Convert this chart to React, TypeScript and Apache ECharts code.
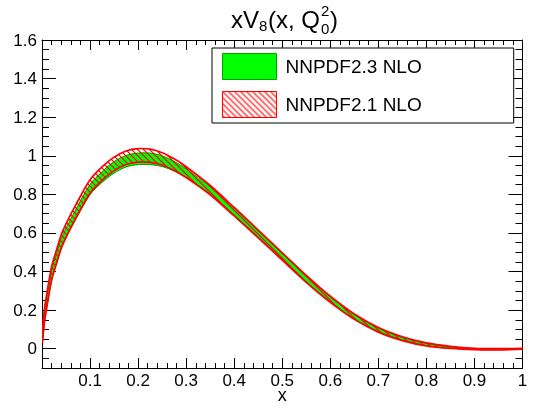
import React, { useEffect, useRef } from 'react';
import * as echarts from 'echarts';

const FONT = "'Liberation Sans', Arial, Helvetica, sans-serif";

// x grid of the curves
const xValues = [0.001, 0.005, 0.01, 0.02, 0.03, 0.04, 0.05, 0.07, 0.1, 0.125, 0.15, 0.175, 0.2, 0.225, 0.25, 0.275, 0.3, 0.35, 0.4, 0.45, 0.5, 0.55, 0.6, 0.65, 0.7, 0.75, 0.8, 0.85, 0.9, 0.95, 1.0];

// NNPDF2.3 NLO band (green)
const nnpdf23Lower = [0.040, 0.135, 0.215, 0.355, 0.440, 0.520, 0.575, 0.670, 0.798, 0.862, 0.910, 0.942, 0.954, 0.954, 0.944, 0.921, 0.888, 0.802, 0.694, 0.580, 0.464, 0.349, 0.244, 0.156, 0.090, 0.046, 0.017, 0.003, -0.004, -0.005, -0.001];
const nnpdf23Upper = [0.080, 0.185, 0.265, 0.405, 0.490, 0.570, 0.625, 0.720, 0.852, 0.918, 0.970, 1.002, 1.014, 1.014, 1.000, 0.971, 0.932, 0.838, 0.726, 0.610, 0.492, 0.375, 0.268, 0.176, 0.106, 0.058, 0.027, 0.010, 0.001, -0.002, 0.001];

// NNPDF2.1 NLO band (red hatched)
const nnpdf21Lower = [0.030, 0.135, 0.215, 0.355, 0.440, 0.520, 0.577, 0.674, 0.806, 0.873, 0.923, 0.955, 0.967, 0.966, 0.952, 0.924, 0.887, 0.798, 0.688, 0.575, 0.459, 0.344, 0.240, 0.152, 0.086, 0.042, 0.014, 0.001, -0.005, -0.006, -0.002];
const nnpdf21Upper = [0.090, 0.205, 0.285, 0.425, 0.510, 0.590, 0.647, 0.744, 0.876, 0.943, 0.993, 1.025, 1.037, 1.034, 1.016, 0.984, 0.943, 0.846, 0.732, 0.615, 0.497, 0.380, 0.272, 0.180, 0.110, 0.062, 0.030, 0.012, 0.002, 0.000, 0.002];

const legendNames = ['NNPDF2.3 NLO', 'NNPDF2.1 NLO'];
const yMajorTicks = [0, 0.2, 0.4, 0.6, 0.8, 1.0, 1.2, 1.4, 1.6];

export default function App() {
  const ref = useRef<HTMLDivElement>(null);

  useEffect(() => {
    const chart = echarts.init(ref.current!, null, { renderer: 'svg' });

    const c = document.createElement('canvas');
    c.width = 6;
    c.height = 6;
    const ctx = c.getContext('2d')!;
    ctx.strokeStyle = '#ff0000';
    ctx.lineWidth = 1.2;
    ctx.beginPath();
    ctx.moveTo(-1, -1); ctx.lineTo(7, 7);
    ctx.moveTo(5, -1); ctx.lineTo(7, 1);
    ctx.moveTo(-1, 5); ctx.lineTo(1, 7);
    ctx.stroke();
    const hatch: any = { image: c, repeat: 'repeat' };

    const bandSeries = (name: string, lower: number[], upper: number[], fill: any, edge: string, edgeWidth: number) => {
      const rows = xValues.map((x, i) => [x, lower[i], upper[i]]);
      return {
        type: 'custom',
        name,
        silent: true,
        xAxisIndex: 0,
        yAxisIndex: 0,
        clip: true,
        itemStyle: { color: typeof fill === 'string' ? fill : edge },
        encode: { x: 0, y: [1, 2] },
        data: rows,
        renderItem: (params: any, api: any) => {
          if (params.dataIndex !== 0) return null;
          const up = rows.map((r) => api.coord([r[0], r[2]]));
          const lo = rows.map((r) => api.coord([r[0], r[1]]));
          return {
            type: 'group',
            children: [
              {
                type: 'polygon',
                shape: { points: up.concat(lo.slice().reverse()), smooth: 0.3 },
                style: { fill, stroke: null },
              },
              {
                type: 'polyline',
                shape: { points: up, smooth: 0.3 },
                style: { fill: null, stroke: edge, lineWidth: edgeWidth },
              },
              {
                type: 'polyline',
                shape: { points: lo, smooth: 0.3 },
                style: { fill: null, stroke: edge, lineWidth: edgeWidth },
              },
            ],
          };
        },
      };
    };

    const tickStyle = { color: '#000', width: 1 };

    const xAxisBase = {
      type: 'value', min: 0, max: 1, interval: 0.1,
      splitLine: { show: false },
      axisLine: { show: true, onZero: false, lineStyle: { color: '#000', width: 1 } },
      axisTick: { show: true, inside: true, length: 10, lineStyle: tickStyle },
      minorTick: { show: true, splitNumber: 5, length: 5, lineStyle: tickStyle },
    };
    const yMinorBase = {
      type: 'value', min: -0.1, max: 1.6, interval: 0.05,
      splitLine: { show: false },
      axisLine: { show: true, onZero: false, lineStyle: { color: '#000', width: 1 } },
      axisTick: { show: true, inside: true, length: 7, lineStyle: tickStyle },
    };
    const yMajorBase = {
      type: 'value', min: -0.1, max: 1.6,
      splitLine: { show: false },
      axisLine: { show: false, onZero: false },
      axisLabel: { show: false },
      axisTick: { show: true, inside: true, length: 14, customValues: yMajorTicks, lineStyle: tickStyle },
    };

    const option: any = {
      animation: false,
      grid: { left: 42, right: 10.5, top: 40, bottom: 41, containLabel: false, outerBoundsMode: 'none' },
      xAxis: [
        {
          ...xAxisBase, position: 'bottom',
          name: 'x', nameLocation: 'middle', nameGap: 27, nameMoveOverlap: false,
          nameTextStyle: { fontFamily: FONT, fontSize: 18, color: '#000', verticalAlign: 'middle', lineHeight: 14 },
          axisLabel: {
            show: true, margin: 5, color: '#000', fontFamily: FONT, fontSize: 17, lineHeight: 15,
            formatter: (v: number) => (v < 0.001 ? '' : String(+v.toFixed(1))),
          },
        },
        { ...xAxisBase, position: 'top', axisLabel: { show: false } },
      ],
      yAxis: [
        {
          ...yMinorBase, position: 'left',
          axisLabel: {
            show: true, margin: 5, color: '#000', fontFamily: FONT, fontSize: 17,
            formatter: (v: number) => {
              const k = Math.round(v * 100);
              return k >= 0 && k % 20 === 0 ? String(+v.toFixed(1)) : '';
            },
          },
        },
        { ...yMajorBase, position: 'left' },
        { ...yMinorBase, position: 'right', axisLabel: { show: false } },
        { ...yMajorBase, position: 'right' },
      ],
      legend: {
        orient: 'vertical', left: 212, top: 48,
        padding: [5, 92, 5, 10], itemGap: 11, itemWidth: 54, itemHeight: 26,
        borderColor: '#000', borderWidth: 1, backgroundColor: '#fff',
        selectedMode: false,
        textStyle: { fontFamily: FONT, fontSize: 19, color: '#000', padding: [0, 0, 0, 4] },
        data: [
          { name: legendNames[0], icon: 'rect', itemStyle: { color: '#00ff00', borderColor: '#00a000', borderWidth: 1 } },
          { name: legendNames[1], icon: 'rect', itemStyle: { color: hatch, borderColor: '#ff0000', borderWidth: 1 } },
        ],
      },
      graphic: [
        { type: 'text', left: 231, top: 7, style: { text: 'xV', fontFamily: FONT, fontSize: 24, fill: '#000' } },
        { type: 'text', left: 259, top: 18, style: { text: '8', fontFamily: FONT, fontSize: 15, fill: '#000' } },
        { type: 'text', left: 268, top: 7, style: { text: '(x, Q', fontFamily: FONT, fontSize: 24, fill: '#000' } },
        { type: 'text', left: 321, top: 3, style: { text: '2', fontFamily: FONT, fontSize: 15, fill: '#000' } },
        { type: 'text', left: 321, top: 21, style: { text: '0', fontFamily: FONT, fontSize: 15, fill: '#000' } },
        { type: 'text', left: 330, top: 7, style: { text: ')', fontFamily: FONT, fontSize: 24, fill: '#000' } },
      ],
      series: [
        bandSeries(legendNames[0], nnpdf23Lower, nnpdf23Upper, '#00ff00', '#00a000', 1),
        bandSeries(legendNames[1], nnpdf21Lower, nnpdf21Upper, hatch, '#ff0000', 1.7),
      ],
    };

    chart.setOption(option);
    return () => chart.dispose();
  }, []);

  return <div ref={ref} style={{ position: 'fixed', left: 0, top: 0, width: 533, height: 409 }} />;
}
